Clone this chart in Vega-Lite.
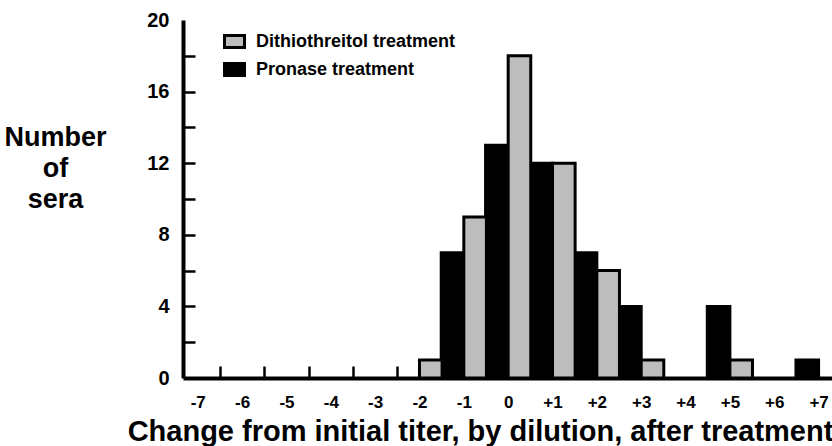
{
  "$schema": "https://vega.github.io/schema/vega-lite/v6.json",
  "width": 649,
  "height": 358,
  "autosize": {"type": "none"},
  "padding": {"left": 183, "top": 20, "right": 0, "bottom": 68},
  "background": "white",
  "config": {"view": {"stroke": null}, "font": "Liberation Sans"},
  "data": {
    "values": [
      {"dilution": -2, "treatment": "Dithiothreitol treatment", "sera": 1},
      {"dilution": -1, "treatment": "Dithiothreitol treatment", "sera": 9},
      {"dilution": 0, "treatment": "Dithiothreitol treatment", "sera": 18},
      {"dilution": 1, "treatment": "Dithiothreitol treatment", "sera": 12},
      {"dilution": 2, "treatment": "Dithiothreitol treatment", "sera": 6},
      {"dilution": 3, "treatment": "Dithiothreitol treatment", "sera": 1},
      {"dilution": 5, "treatment": "Dithiothreitol treatment", "sera": 1},
      {"dilution": -1, "treatment": "Pronase treatment", "sera": 7},
      {"dilution": 0, "treatment": "Pronase treatment", "sera": 13},
      {"dilution": 1, "treatment": "Pronase treatment", "sera": 12},
      {"dilution": 2, "treatment": "Pronase treatment", "sera": 7},
      {"dilution": 3, "treatment": "Pronase treatment", "sera": 4},
      {"dilution": 5, "treatment": "Pronase treatment", "sera": 4},
      {"dilution": 7, "treatment": "Pronase treatment", "sera": 1}
    ]
  },
  "encoding": {
    "x": {
      "field": "dilution",
      "type": "quantitative",
      "scale": {"domain": [-7.22, 7.19], "nice": false, "zero": false},
      "axis": {
        "values": [-7, -6.5, -6, -5.5, -5, -4.5, -4, -3.5, -3, -2.5, -2, -1.5, -1, -0.5, 0, 0.5, 1, 1.5, 2, 2.5, 3, 3.5, 4, 4.5, 5, 5.5, 6, 6.5, 7],
        "labelExpr": "datum.value % 1 !== 0 ? '' : (datum.value > 0 ? '+' + datum.value : '' + datum.value)",
        "grid": false,
        "tickSize": -12,
        "tickWidth": 2.5,
        "tickColor": "black",
        "tickOpacity": {"condition": {"test": "datum.value % 1 === 0", "value": 0}, "value": 1},
        "domainColor": "black",
        "domainWidth": 4,
        "labelFontSize": 17,
        "labelFontWeight": "bold",
        "labelColor": "black",
        "labelPadding": 28,
        "labelFlush": false,
        "labelOverlap": false,
        "title": "Change from initial titer, by dilution, after treatment",
        "titleFontSize": 29,
        "titleFontWeight": "bold",
        "titleColor": "black",
        "titleAlign": "center",
        "titleBaseline": "alphabetic",
        "titleX": 297,
        "titleY": 62
      }
    },
    "y": {
      "field": "sera",
      "type": "quantitative",
      "scale": {"domain": [0, 20], "nice": false},
      "axis": {
        "values": [0, 2, 4, 6, 8, 10, 12, 14, 16, 18, 20],
        "labelExpr": "datum.value % 4 === 0 ? datum.label : ''",
        "grid": false,
        "tickSize": -12,
        "tickWidth": 2.5,
        "tickColor": "black",
        "tickOpacity": {"condition": {"test": "datum.value === 0 || datum.value === 20", "value": 0}, "value": 1},
        "domainColor": "black",
        "domainWidth": 4,
        "labelFontSize": 20,
        "labelFontWeight": "bold",
        "labelColor": "black",
        "labelPadding": 26,
        "title": ["Number", "of", "sera"],
        "titleAngle": 0,
        "titleAlign": "center",
        "titleBaseline": "top",
        "titleX": -128,
        "titleY": 104,
        "titleFontSize": 27,
        "titleFontWeight": "bold",
        "titleColor": "black",
        "titleLineHeight": 31
      }
    },
    "fill": {
      "field": "treatment",
      "type": "nominal",
      "scale": {"domain": ["Dithiothreitol treatment", "Pronase treatment"], "range": ["#bdbdbd", "#000000"]},
      "legend": {
        "orient": "none",
        "legendX": 40,
        "legendY": 10,
        "title": null,
        "padding": 0,
        "symbolType": "M-1,-0.6H1V0.6H-1Z",
        "symbolSize": 400,
        "symbolStrokeColor": "black",
        "symbolStrokeWidth": 3,
        "symbolOpacity": 1,
        "labelFontSize": 18,
        "labelFontWeight": "bold",
        "labelColor": "black",
        "labelOffset": 10,
        "labelLimit": 0,
        "rowPadding": 3
      }
    }
  },
  "layer": [
    {
      "transform": [{"filter": "datum.treatment === 'Pronase treatment'"}],
      "mark": {"type": "bar", "width": 22.6, "xOffset": -11.3, "stroke": "black", "strokeWidth": 3}
    },
    {
      "transform": [{"filter": "datum.treatment === 'Dithiothreitol treatment'"}],
      "mark": {"type": "bar", "width": 22.6, "xOffset": 11.3, "stroke": "black", "strokeWidth": 3}
    }
  ]
}
